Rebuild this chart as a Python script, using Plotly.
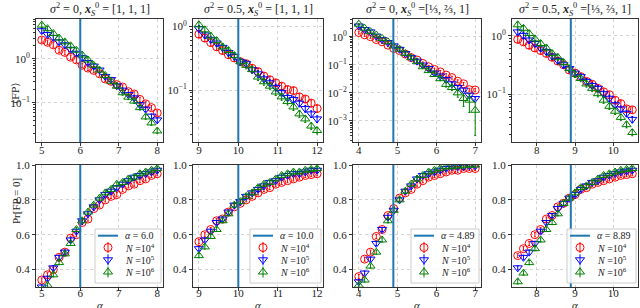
import plotly.graph_objects as go

W, H = 640, 308
FONT = "Liberation Serif"

# ---------------- data ----------------
alpha_p1 = [5.0, 5.15, 5.3, 5.45, 5.6, 5.75, 5.9, 6.05, 6.2, 6.35, 6.5, 6.65, 6.8, 6.95, 7.1, 7.25, 7.4, 7.55, 7.7, 7.85, 8.0]
alpha_p2 = [9.0, 9.15, 9.3, 9.45, 9.6, 9.75, 9.9, 10.05, 10.2, 10.35, 10.5, 10.65, 10.8, 10.95, 11.1, 11.25, 11.4, 11.55, 11.7, 11.85, 12.0]
alpha_p3 = [4.0, 4.15, 4.3, 4.45, 4.6, 4.75, 4.9, 5.05, 5.2, 5.35, 5.5, 5.65, 5.8, 5.95, 6.1, 6.25, 6.4, 6.55, 6.7, 6.85, 7.0]
alpha_p4 = [7.5, 7.65, 7.8, 7.95, 8.1, 8.25, 8.4, 8.55, 8.7, 8.85, 9.0, 9.15, 9.3, 9.45, 9.6, 9.75, 9.9, 10.05, 10.2, 10.35, 10.5]

alpha_star = [6.0, 10.0, 4.89, 8.89]
alpha_star_labels = ["6.0", "10.0", "4.89", "8.89"]

titles = [
    "<i>σ</i><sup>2</sup> = 0, <b><i>x</i></b><sub><i>S</i></sub><sup>0</sup> = [1, 1, 1]",
    "<i>σ</i><sup>2</sup> = 0.5, <b><i>x</i></b><sub><i>S</i></sub><sup>0</sup> = [1, 1, 1]",
    "<i>σ</i><sup>2</sup> = 0, <b><i>x</i></b><sub><i>S</i></sub><sup>0</sup> =[⅓, ⅔, 1]",
    "<i>σ</i><sup>2</sup> = 0.5, <b><i>x</i></b><sub><i>S</i></sub><sup>0</sup> =[⅓, ⅔, 1]",
]

N_labels = ["<i>N</i> =10<sup>4</sup>", "<i>N</i> =10<sup>5</sup>", "<i>N</i> =10<sup>6</sup>"]

# mean false positives <FP>
fp_p1_N4 = [2.7, 2.4, 2.1, 1.58, 1.41, 1.10, 0.95, 0.72, 0.62, 0.55, 0.46, 0.35, 0.31, 0.26, 0.23, 0.18, 0.16, 0.12, 0.095, 0.078, 0.059]
fp_p1_N5 = [4.4, 3.6, 3.1, 2.45, 2.1, 1.66, 1.35, 1.07, 0.83, 0.69, 0.56, 0.40, 0.34, 0.245, 0.195, 0.155, 0.13, 0.091, 0.072, 0.050, 0.041]
fp_p1_N6 = [5.9, 4.9, 3.8, 3.0, 2.45, 2.0, 1.58, 1.23, 0.95, 0.72, 0.56, 0.42, 0.31, 0.24, 0.17, 0.135, 0.11, 0.078, 0.048, 0.035, 0.023]

fp_p2_N4 = [0.76, 0.66, 0.56, 0.48, 0.42, 0.36, 0.32, 0.28, 0.26, 0.22, 0.195, 0.166, 0.145, 0.13, 0.115, 0.102, 0.098, 0.078, 0.072, 0.062, 0.051]
fp_p2_N5 = [0.93, 0.74, 0.63, 0.55, 0.47, 0.39, 0.34, 0.28, 0.26, 0.21, 0.18, 0.15, 0.13, 0.11, 0.091, 0.076, 0.071, 0.062, 0.051, 0.042, 0.035]
fp_p2_N6 = [1.07, 0.89, 0.71, 0.60, 0.48, 0.42, 0.35, 0.28, 0.245, 0.21, 0.16, 0.135, 0.115, 0.093, 0.078, 0.066, 0.054, 0.042, 0.035, 0.027, 0.023]

fp_p3_N4 = [1.41, 1.17, 1.0, 0.79, 0.66, 0.50, 0.38, 0.32, 0.24, 0.18, 0.148, 0.112, 0.085, 0.068, 0.056, 0.043, 0.035, 0.026, 0.021, 0.013, 0.0126]
fp_p3_N5 = [2.4, 1.8, 1.48, 1.05, 0.79, 0.62, 0.47, 0.355, 0.25, 0.18, 0.135, 0.098, 0.074, 0.051, 0.040, 0.030, 0.021, 0.0155, 0.0126, 0.0083, 0.0063]
fp_p3_N6 = [2.8, 2.0, 1.51, 1.15, 0.87, 0.66, 0.47, 0.36, 0.25, 0.178, 0.129, 0.085, 0.062, 0.045, 0.032, 0.020, 0.0155, 0.010, 0.0063, 0.0055, 0.0024]
fp_p3_N6_err = [0.1, 0.08, 0.06, 0.05, 0.04, 0.03, 0.025, 0.02, 0.015, 0.012, 0.01, 0.008, 0.007, 0.006, 0.005, 0.004, 0.0035, 0.003, 0.003, 0.0035, 0.0021]

fp_p4_N4 = [0.87, 0.79, 0.69, 0.62, 0.56, 0.50, 0.43, 0.37, 0.32, 0.26, 0.23, 0.20, 0.166, 0.148, 0.126, 0.11, 0.098, 0.079, 0.069, 0.056, 0.054]
fp_p4_N5 = [1.17, 1.02, 0.85, 0.74, 0.62, 0.54, 0.45, 0.38, 0.32, 0.275, 0.23, 0.20, 0.166, 0.141, 0.126, 0.102, 0.085, 0.066, 0.056, 0.047, 0.037]
fp_p4_N6 = [1.55, 1.35, 1.10, 0.89, 0.74, 0.62, 0.50, 0.43, 0.35, 0.275, 0.22, 0.186, 0.15, 0.126, 0.102, 0.079, 0.062, 0.051, 0.040, 0.030, 0.022]

# Pr[FP = 0]
pr_p1_N4 = [0.34, 0.37, 0.40, 0.47, 0.50, 0.58, 0.60, 0.67, 0.69, 0.75, 0.77, 0.80, 0.82, 0.83, 0.86, 0.88, 0.89, 0.91, 0.92, 0.94, 0.95]
pr_p1_N5 = [0.30, 0.35, 0.41, 0.47, 0.50, 0.57, 0.62, 0.68, 0.72, 0.76, 0.80, 0.83, 0.85, 0.87, 0.89, 0.91, 0.93, 0.94, 0.95, 0.96, 0.97]
pr_p1_N6 = [0.28, 0.31, 0.37, 0.44, 0.49, 0.55, 0.63, 0.68, 0.73, 0.77, 0.81, 0.84, 0.86, 0.89, 0.90, 0.92, 0.93, 0.95, 0.96, 0.97, 0.98]

pr_p2_N4 = [0.56, 0.60, 0.63, 0.68, 0.69, 0.73, 0.76, 0.78, 0.80, 0.82, 0.84, 0.86, 0.87, 0.89, 0.90, 0.91, 0.92, 0.93, 0.94, 0.945, 0.95]
pr_p2_N5 = [0.52, 0.57, 0.62, 0.67, 0.69, 0.73, 0.77, 0.79, 0.82, 0.84, 0.86, 0.88, 0.90, 0.91, 0.93, 0.94, 0.95, 0.95, 0.96, 0.97, 0.97]
pr_p2_N6 = [0.48, 0.53, 0.59, 0.63, 0.68, 0.72, 0.77, 0.79, 0.82, 0.84, 0.87, 0.89, 0.90, 0.92, 0.94, 0.95, 0.96, 0.96, 0.97, 0.975, 0.98]

pr_p3_N4 = [0.36, 0.46, 0.50, 0.59, 0.63, 0.71, 0.75, 0.81, 0.84, 0.86, 0.89, 0.91, 0.93, 0.94, 0.95, 0.96, 0.97, 0.97, 0.98, 0.98, 0.98]
pr_p3_N5 = [0.33, 0.38, 0.46, 0.55, 0.63, 0.70, 0.74, 0.80, 0.85, 0.88, 0.92, 0.94, 0.95, 0.96, 0.97, 0.98, 0.99, 0.99, 0.99, 0.995, 0.995]
pr_p3_N6 = [0.31, 0.34, 0.42, 0.50, 0.57, 0.68, 0.74, 0.80, 0.85, 0.89, 0.92, 0.94, 0.96, 0.97, 0.98, 0.99, 0.99, 0.995, 0.995, 1.0, 1.0]

pr_p4_N4 = [0.48, 0.52, 0.55, 0.60, 0.63, 0.69, 0.71, 0.76, 0.78, 0.81, 0.83, 0.86, 0.87, 0.89, 0.90, 0.91, 0.92, 0.93, 0.94, 0.945, 0.95]
pr_p4_N5 = [0.41, 0.47, 0.50, 0.55, 0.62, 0.67, 0.71, 0.75, 0.78, 0.81, 0.83, 0.86, 0.88, 0.90, 0.91, 0.93, 0.94, 0.95, 0.96, 0.965, 0.97]
pr_p4_N6 = [0.33, 0.38, 0.44, 0.52, 0.57, 0.63, 0.67, 0.72, 0.78, 0.81, 0.84, 0.87, 0.88, 0.90, 0.92, 0.94, 0.95, 0.96, 0.97, 0.975, 0.98]

alphas = [alpha_p1, alpha_p2, alpha_p3, alpha_p4]
fp = [[fp_p1_N4, fp_p1_N5, fp_p1_N6], [fp_p2_N4, fp_p2_N5, fp_p2_N6],
      [fp_p3_N4, fp_p3_N5, fp_p3_N6], [fp_p4_N4, fp_p4_N5, fp_p4_N6]]
pr = [[pr_p1_N4, pr_p1_N5, pr_p1_N6], [pr_p2_N4, pr_p2_N5, pr_p2_N6],
      [pr_p3_N4, pr_p3_N5, pr_p3_N6], [pr_p4_N4, pr_p4_N5, pr_p4_N6]]

# ---------------- style / layout ----------------
colors = ["#ff0000", "#0000ff", "#008000"]
symbols = ["circle-open", "triangle-down-open", "triangle-up-open"]
vline_color = "#1f77b4"
TXT = "#222222"

col_px = [(36, 163), (193, 323), (353, 481), (512, 638)]
top_px = (19, 142)
bot_px = (165, 287)
legend_w = [66, 71, 68, 69]
top_log_ranges = [[-1.89, 0.91], [-1.82, 0.12], [-3.75, 0.63], [-1.82, 0.29]]
top_tickvals = [[1, 0.1], [1, 0.1], [1, 0.1, 0.01, 0.001], [1, 0.1]]
top_ticktext = [["10<sup>0</sup>", "10<sup>−1</sup>"], ["10<sup>0</sup>", "10<sup>−1</sup>"],
                ["10<sup>0</sup>", "10<sup>−1</sup>", "10<sup>−2</sup>", "10<sup>−3</sup>"],
                ["10<sup>0</sup>", "10<sup>−1</sup>"]]
pr_range = [0.3, 1.0]


def px_x(x):
    return x / W


def px_y(y):
    return 1 - y / H


def ydom(px):
    return [px_y(px[1]), px_y(px[0])]


fig = go.Figure()
layout = {}
shapes = []
annotations = []
axis_common = dict(
    showline=True, mirror=True, linecolor="#333333", linewidth=1, automargin=False,
    ticks="outside", ticklen=3, tickcolor="#333333", tickwidth=1,
    showgrid=True, gridcolor="#c8c8c8", griddash="dot", gridwidth=0.8,
    zeroline=False, tickfont=dict(family=FONT, size=11, color=TXT),
)

for k in range(4):
    L, R = col_px[k]
    xd = [px_x(L), px_x(R)]
    xa = alphas[k]
    xr = [xa[0] - 0.15, xa[-1] + 0.15]
    it = 2 * k + 1
    ib = 2 * k + 2
    sx_t = "" if it == 1 else str(it)
    sx_b = str(ib)
    layout["xaxis" + sx_t] = dict(axis_common, domain=xd, range=xr, dtick=1, anchor="y" + sx_t,
                                  ticklabelstandoff=-5)
    layout["yaxis" + sx_t] = dict(axis_common, domain=ydom(top_px), type="log", range=top_log_ranges[k],
                                  tickvals=top_tickvals[k], ticktext=top_ticktext[k], anchor="x" + sx_t,
                                  minor=dict(ticks="outside", ticklen=2, tickcolor="#333333", dtick="D1",
                                             showgrid=False))
    layout["xaxis" + sx_b] = dict(axis_common, domain=xd, range=xr, dtick=1, anchor="y" + sx_b,
                                  ticklabelstandoff=-7)
    layout["yaxis" + sx_b] = dict(axis_common, domain=ydom(bot_px), range=pr_range,
                                  tickvals=[0.4, 0.6, 0.8, 1.0], tickformat=".1f", anchor="x" + sx_b)

    # vertical threshold lines
    shapes.append(dict(type="line", xref="x" + sx_t, yref="y" + sx_t + " domain", x0=alpha_star[k], x1=alpha_star[k],
                       y0=0, y1=1, line=dict(color=vline_color, width=2), layer="above"))
    shapes.append(dict(type="line", xref="x" + sx_b, yref="y" + sx_b + " domain", x0=alpha_star[k], x1=alpha_star[k],
                       y0=0, y1=1, line=dict(color=vline_color, width=2), layer="above"))

    for j in range(3):
        if k == 2 and j == 2:
            ey = dict(type="data", array=fp_p3_N6_err, color=colors[j], thickness=1, width=1)
        else:
            ey = dict(type="percent", value=12, color=colors[j], thickness=1, width=1)
        fig.add_trace(go.Scatter(x=xa, y=fp[k][j], mode="markers", xaxis="x" + sx_t, yaxis="y" + sx_t,
                                 marker=dict(symbol=symbols[j], size=8, color=colors[j], line=dict(width=1, color=colors[j])),
                                 error_y=ey, showlegend=False, hoverinfo="skip"))
    for j in range(3):
        fig.add_trace(go.Scatter(x=xa, y=pr[k][j], mode="markers", xaxis="x" + sx_b, yaxis="y" + sx_b,
                                 marker=dict(symbol=symbols[j], size=8, color=colors[j], line=dict(width=1, color=colors[j])),
                                 error_y=dict(type="constant", value=0.012, color=colors[j], thickness=1, width=1),
                                 showlegend=False, hoverinfo="skip"))

    # ---- legend box (drawn manually to match compact matplotlib legend) ----
    B = bot_px[1]
    bx1 = R - 2
    bx0 = bx1 - legend_w[k]
    shapes.append(dict(type="rect", xref="paper", yref="paper", x0=px_x(bx0), x1=px_x(bx1),
                       y0=px_y(B - 4), y1=px_y(B - 58), fillcolor="rgba(255,255,255,0.85)",
                       line=dict(color="#cccccc", width=1), layer="above"))
    row_y = [B - 51.3, B - 39.5, B - 27.2, B - 15]
    shapes.append(dict(type="line", xref="paper", yref="paper", x0=px_x(bx0 + 3), x1=px_x(bx0 + 23),
                       y0=px_y(row_y[0]), y1=px_y(row_y[0]), line=dict(color=vline_color, width=2), layer="above"))
    annotations.append(dict(text="<i>α</i> = " + alpha_star_labels[k], x=px_x(bx0 + 28), y=px_y(row_y[0]),
                            xref="paper", yref="paper", showarrow=False, xanchor="left", yanchor="middle",
                            font=dict(family=FONT, size=10, color=TXT)))
    mx = bx0 + 13
    for j in range(3):
        cy = row_y[j + 1]
        common = dict(xref="paper", yref="paper", xsizemode="pixel", ysizemode="pixel",
                      xanchor=px_x(mx), yanchor=px_y(cy), line=dict(color=colors[j], width=1), layer="above")
        if j == 0:
            shapes.append(dict(common, type="circle", x0=-4, x1=4, y0=-4, y1=4))
        elif j == 1:
            shapes.append(dict(common, type="path", path="M-4.6,2 L4.6,2 L0,-4 Z"))
        else:
            shapes.append(dict(common, type="path", path="M-4.6,-2 L4.6,-2 L0,4 Z"))
        shapes.append(dict(common, type="line", x0=0, x1=0, y0=-5.5, y1=5.5))
        annotations.append(dict(text=N_labels[j], x=px_x(bx0 + 28), y=px_y(cy),
                                xref="paper", yref="paper", showarrow=False, xanchor="left", yanchor="middle",
                                font=dict(family=FONT, size=10, color=TXT)))

    annotations.append(dict(text=titles[k], x=px_x((L + R) / 2), y=px_y(10),
                            xref="paper", yref="paper", showarrow=False, xanchor="center", yanchor="middle",
                            font=dict(family=FONT, size=12, color=TXT)))
    annotations.append(dict(text="<i>α</i>", x=px_x((L + R) / 2), y=px_y(305),
                            xref="paper", yref="paper", showarrow=False, xanchor="center", yanchor="middle",
                            font=dict(family=FONT, size=11, color=TXT)))

annotations.append(dict(text="⟨FP⟩", x=px_x(8), y=px_y((top_px[0] + top_px[1]) / 2), xref="paper", yref="paper",
                        showarrow=False, textangle=-90, font=dict(family="DejaVu Serif", size=10, color=TXT)))
annotations.append(dict(text="Pr[FP = 0]", x=px_x(8), y=px_y((bot_px[0] + bot_px[1]) / 2), xref="paper", yref="paper",
                        showarrow=False, textangle=-90, font=dict(family=FONT, size=11, color=TXT)))

fig.update_layout(template="none", width=W, height=H, margin=dict(l=0, r=0, t=0, b=0), paper_bgcolor="white",
                  plot_bgcolor="white", showlegend=False, hovermode=False,
                  annotations=annotations, shapes=shapes, **layout)

fig.write_html("out.html", config={"displayModeBar": False, "staticPlot": True},
               post_script="document.body.style.margin='0';document.body.style.padding='0';")
